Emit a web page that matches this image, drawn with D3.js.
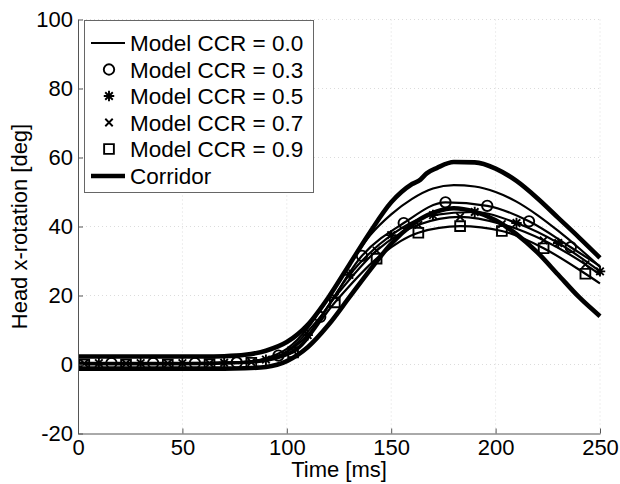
<!DOCTYPE html>
<html lang="en">
<head>
<meta charset="utf-8">
<title>Head x-rotation</title>
<script src="https://cdn.jsdelivr.net/npm/d3@7"></script>
<style>
  body { margin: 0; background: #fff; }
  svg { font-family: "Liberation Sans", Arial, sans-serif; }
  .axis path, .axis line { stroke: #555; }
  .axis text { font-size: 22px; fill: #000; }
  .grid line { stroke: #dcdcdc; stroke-dasharray: 1,3; }
  .model { fill: none; stroke: #000; stroke-width: 2.2; }
  .corridor { fill: none; stroke: #000; stroke-width: 4.6; }
  .marker { fill: none; stroke: #000; stroke-width: 1.9; }
</style>
</head>
<body>
<script>
// chart size
var w = 620, h = 484;
var plotLeft = 78, plotTop = 19.5, plotRight = 600, plotBottom = 433.5;

// tick values
var xTicks = [0, 50, 100, 150, 200, 250];
var yTicks = [-20, 0, 20, 40, 60, 80, 100];

// corridor (upper and lower bound)
var corridorTime = [0, 20, 40, 60, 70, 80, 90, 100, 110, 120, 130, 140, 150, 160, 164, 167, 172, 180, 190, 200, 210, 220, 230, 240, 250];
var corridorUpper = [2.3, 2.3, 2.3, 2.3, 2.4, 2.8, 4.0, 6.5, 11.5, 19.5, 29, 38.5, 47, 52.3, 53.6, 55.4, 57.0, 58.7, 58.6, 56.8, 53.2, 48.2, 42.5, 36.8, 30.9];
var corridorLower = [-1.2, -1.2, -1.2, -1.2, -1.2, -1.1, -0.7, 1.0, 5, 11.5, 19.5, 27.5, 35, 40.5, 42.2, 43.2, 44.4, 45.3, 44.3, 41.8, 37.8, 32.5, 26, 19.5, 14];

// Model CCR = 0.0 (no markers)
var ccr00Time = [0, 20, 40, 60, 70, 80, 90, 100, 110, 120, 130, 140, 150, 160, 170, 180, 190, 200, 210, 220, 230, 240, 250];
var ccr00 = [0.5, 0.5, 0.5, 0.5, 0.6, 0.8, 1.8, 4.5, 10.5, 19.5, 29, 37.5, 43.5, 48, 51, 52, 51.6, 50, 47.2, 43.3, 38.7, 33.7, 28.3];

// Model CCR = 0.3 (circles)
var ccr03Time = [0, 16, 36, 56, 76, 96, 116, 136, 156, 176, 196, 216, 236, 250];
var ccr03 = [0.4, 0.4, 0.4, 0.4, 0.6, 2.6, 13.8, 31.5, 41, 47, 46, 41.5, 34, 28.5];

// Model CCR = 0.5 (asterisks)
var ccr05Time = [0, 10, 30, 50, 70, 90, 110, 130, 150, 170, 190, 210, 230, 250];
var ccr05 = [0.4, 0.4, 0.4, 0.4, 0.5, 1.4, 8.5, 26, 37.5, 43.3, 44.2, 41, 35.2, 27];

// Model CCR = 0.7 (crosses)
var ccr07Time = [0, 3, 23, 43, 63, 83, 103, 123, 143, 163, 183, 203, 223, 243, 250];
var ccr07 = [0.3, 0.3, 0.3, 0.3, 0.3, 0.7, 4, 19.5, 33, 40.5, 42.8, 40.7, 36, 29, 26];

// Model CCR = 0.9 (squares)
var ccr09Time = [0, 3, 23, 43, 63, 83, 103, 123, 143, 163, 183, 203, 223, 243, 250];
var ccr09 = [0, 0, 0, 0, 0.1, 0.5, 3.5, 18, 30.7, 38.2, 40.1, 38.7, 33.7, 26.3, 23.5];

var legendLabels = ["Model CCR = 0.0", "Model CCR = 0.3", "Model CCR = 0.5", "Model CCR = 0.7", "Model CCR = 0.9", "Corridor"];

function zip(t, v) { return t.map(function(d, i) { return {t: d, v: v[i]}; }); }

// matlab style '*' : plus and times overlaid
var symStar = {
  draw: function(ctx, size) {
    var r = Math.sqrt(size) / 2, q = r * 0.72;
    ctx.moveTo(-r, 0); ctx.lineTo(r, 0);
    ctx.moveTo(0, -r); ctx.lineTo(0, r);
    ctx.moveTo(-q, -q); ctx.lineTo(q, q);
    ctx.moveTo(-q, q); ctx.lineTo(q, -q);
  }
};
var symX = {
  draw: function(ctx, size) {
    var r = Math.sqrt(size) / 2;
    ctx.moveTo(-r, -r); ctx.lineTo(r, r);
    ctx.moveTo(-r, r); ctx.lineTo(r, -r);
  }
};

var series = [
  {name: "0.0", data: zip(ccr00Time, ccr00), sym: null},
  {name: "0.3", data: zip(ccr03Time, ccr03), sym: d3.symbolCircle, size: 85},
  {name: "0.5", data: zip(ccr05Time, ccr05), sym: symStar, size: 110},
  {name: "0.7", data: zip(ccr07Time, ccr07), sym: symX, size: 55},
  {name: "0.9", data: zip(ccr09Time, ccr09), sym: d3.symbolSquare, size: 95}
];

var xScale = d3.scaleLinear().domain([0, 250]).range([plotLeft, plotRight]);
var yScale = d3.scaleLinear().domain([-20, 100]).range([plotBottom, plotTop]);

var svg = d3.select("body").append("svg")
  .attr("width", w)
  .attr("height", h);

// faint grid
var grid = svg.append("g").attr("class", "grid");
grid.selectAll(".gy").data(yTicks.filter(function(d) { return d > -20; })).enter()
  .append("line")
  .attr("x1", plotLeft).attr("x2", plotRight)
  .attr("y1", function(d) { return yScale(d); })
  .attr("y2", function(d) { return yScale(d); });
grid.selectAll(".gx").data(xTicks.filter(function(d) { return d > 0; })).enter()
  .append("line")
  .attr("y1", plotTop).attr("y2", plotBottom)
  .attr("x1", function(d) { return xScale(d); })
  .attr("x2", function(d) { return xScale(d); });

var line = d3.line()
  .x(function(d) { return xScale(d.t); })
  .y(function(d) { return yScale(d.v); })
  .curve(d3.curveMonotoneX);

// corridor
svg.append("path").datum(zip(corridorTime, corridorUpper)).attr("class", "corridor").attr("d", line);
svg.append("path").datum(zip(corridorTime, corridorLower)).attr("class", "corridor").attr("d", line);

// model lines and markers (every 20 ms, starting at the second point)
series.forEach(function(s) {
  svg.append("path").datum(s.data).attr("class", "model").attr("d", line);
  if (!s.sym) return;
  var pts = s.data.filter(function(d, i) {
    if (i === 0) return false;
    return (d.t - s.data[1].t) % 20 === 0;
  });
  svg.selectAll(null).data(pts).enter()
    .append("path")
    .attr("class", "marker")
    .attr("transform", function(d) { return "translate(" + xScale(d.t) + "," + yScale(d.v) + ")"; })
    .attr("d", d3.symbol().type(s.sym).size(s.size));
});

// axes (plain hyphen for negatives, as in the original)
var fmt = function(d) { return String(d); };
var xAxis = d3.axisBottom(xScale).tickValues(xTicks).tickFormat(fmt).tickSizeInner(-5).tickSizeOuter(0).tickPadding(6);
var yAxis = d3.axisLeft(yScale).tickValues(yTicks).tickFormat(fmt).tickSizeInner(-5).tickSizeOuter(0).tickPadding(5);

svg.append("g").attr("class", "axis")
  .attr("transform", "translate(0," + plotBottom + ")")
  .call(xAxis);
svg.append("g").attr("class", "axis")
  .attr("transform", "translate(" + plotLeft + ",0)")
  .call(yAxis);

// axis titles
svg.append("text")
  .attr("x", (plotLeft + plotRight) / 2).attr("y", 477)
  .attr("text-anchor", "middle")
  .style("font-size", "22px")
  .text("Time [ms]");
svg.append("text")
  .attr("transform", "translate(27," + ((plotTop + plotBottom) / 2) + ") rotate(-90)")
  .attr("text-anchor", "middle")
  .style("font-size", "22px")
  .text("Head x-rotation [deg]");

// legend
var lg = svg.append("g");
lg.append("rect")
  .attr("x", 84.5).attr("y", 20.5).attr("width", 229).attr("height", 172)
  .attr("fill", "#fff").attr("stroke", "#666");
var rowY = [43, 69.5, 96, 122.5, 149, 176];
legendLabels.forEach(function(label, i) {
  var y = rowY[i];
  if (i === 0 || i === 5) {
    lg.append("line")
      .attr("x1", 91).attr("x2", 125).attr("y1", y).attr("y2", y)
      .attr("stroke", "#000").attr("stroke-width", i === 5 ? 4.6 : 2.2);
  } else {
    var s = series[i];
    lg.append("path").attr("class", "marker")
      .attr("transform", "translate(109," + y + ")")
      .attr("d", d3.symbol().type(s.sym).size(s.size));
  }
  lg.append("text")
    .attr("x", 130).attr("y", y)
    .attr("dy", "0.36em")
    .style("font-size", "22.5px")
    .text(label);
});
</script>
</body>
</html>
